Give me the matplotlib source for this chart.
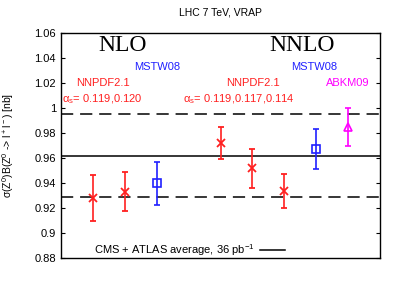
import matplotlib
matplotlib.use("Agg")
import matplotlib.pyplot as plt

plt.rcParams["font.family"] = ["Liberation Sans", "DejaVu Sans"]
plt.rcParams["mathtext.default"] = "regular"

# data
x_pos = [1, 2, 3, 5, 6, 7, 8, 9]
values = [0.928, 0.933, 0.9397, 0.972, 0.9518, 0.9336, 0.9675, 0.9846]
errors = [0.0185, 0.0156, 0.0171, 0.0129, 0.0154, 0.0135, 0.016, 0.0151]
groups = ["NNPDF", "NNPDF", "MSTW", "NNPDF", "NNPDF", "NNPDF", "MSTW", "ABKM"]
avg = 0.962
avg_err = 0.033
yticks = [0.88, 0.9, 0.92, 0.94, 0.96, 0.98, 1.0, 1.02, 1.04, 1.06]
ytick_labels = ["0.88", "0.9", "0.92", "0.94", "0.96", "0.98", "1", "1.02", "1.04", "1.06"]

styles = {
    "NNPDF": dict(color="#ff2020", marker="x", mfc="none", ms=6, mew=1.3),
    "MSTW": dict(color="#2020ff", marker="s", mfc="none", ms=6, mew=1.2),
    "ABKM": dict(color="#ff00ff", marker="^", mfc="none", ms=6, mew=1.2),
}

fig = plt.figure(figsize=(4.01, 2.81), dpi=100)
ax = fig.add_axes([0.152, 0.082, 0.796, 0.8])
ax.set_xlim(0, 10)
ax.set_ylim(0.88, 1.06)

dash = (0, (8, 4.5))
ax.axhline(avg, color="black", lw=1.1)
ax.axhline(avg + avg_err, color="black", lw=1.1, ls=dash)
ax.axhline(avg - avg_err, color="black", lw=1.1, ls=dash)

for xp, v, e, g in zip(x_pos, values, errors, groups):
    st = styles[g]
    ax.errorbar([xp], [v], yerr=[e], color=st["color"], marker=st["marker"],
                mfc=st["mfc"], mec=st["color"], ms=st["ms"], mew=st["mew"],
                elinewidth=1.2, capsize=2, capthick=1.2, ls="none", zorder=3)

ax.set_xticks([])
ax.set_yticks(yticks)
ax.set_yticklabels(ytick_labels, fontsize=8)
ax.tick_params(axis="y", direction="in", length=3, right=True, labelsize=8)
for s in ax.spines.values():
    s.set_linewidth(1.0)

ax.set_ylabel(r"$\sigma$(Z$^0$)B(Z$^0$ -> l$^+$l$^-$) [nb]", fontsize=7.5)
ax.yaxis.set_label_coords(-0.14, 0.5)
ax.set_title("LHC 7 TeV, VRAP", fontsize=7.5, pad=13)

fs = 8
ax.text(1.94, 1.0504, "NLO", family="Liberation Serif", fontsize=17, ha="center", va="center")
ax.text(7.55, 1.0504, "NNLO", family="Liberation Serif", fontsize=17, ha="center", va="center")
ax.text(3.01, 1.0328, "MSTW08", color="#2020ff", fontsize=fs, ha="center", va="center")
ax.text(7.93, 1.0328, "MSTW08", color="#2020ff", fontsize=fs, ha="center", va="center")
ax.text(1.32, 1.0200, "NNPDF2.1", color="#ff2020", fontsize=fs, ha="center", va="center")
ax.text(6.02, 1.0200, "NNPDF2.1", color="#ff2020", fontsize=fs, ha="center", va="center")
ax.text(9.0, 1.0200, "ABKM09", color="#ff00ff", fontsize=fs, ha="center", va="center")
ax.text(0.03, 1.0075, r"$\alpha_s$= 0.119,0.120", color="#ff2020", fontsize=fs, ha="left", va="center")
ax.text(3.82, 1.0075, r"$\alpha_s$= 0.119,0.117,0.114", color="#ff2020", fontsize=fs, ha="left", va="center")

ax.text(6.08, 0.8866, r"CMS + ATLAS average, 36 pb$^{-1}$", fontsize=fs, ha="right", va="center")
ax.plot([6.24, 7.02], [0.8866, 0.8866], color="black", lw=1.1)

fig.savefig("out.png", dpi=100)
